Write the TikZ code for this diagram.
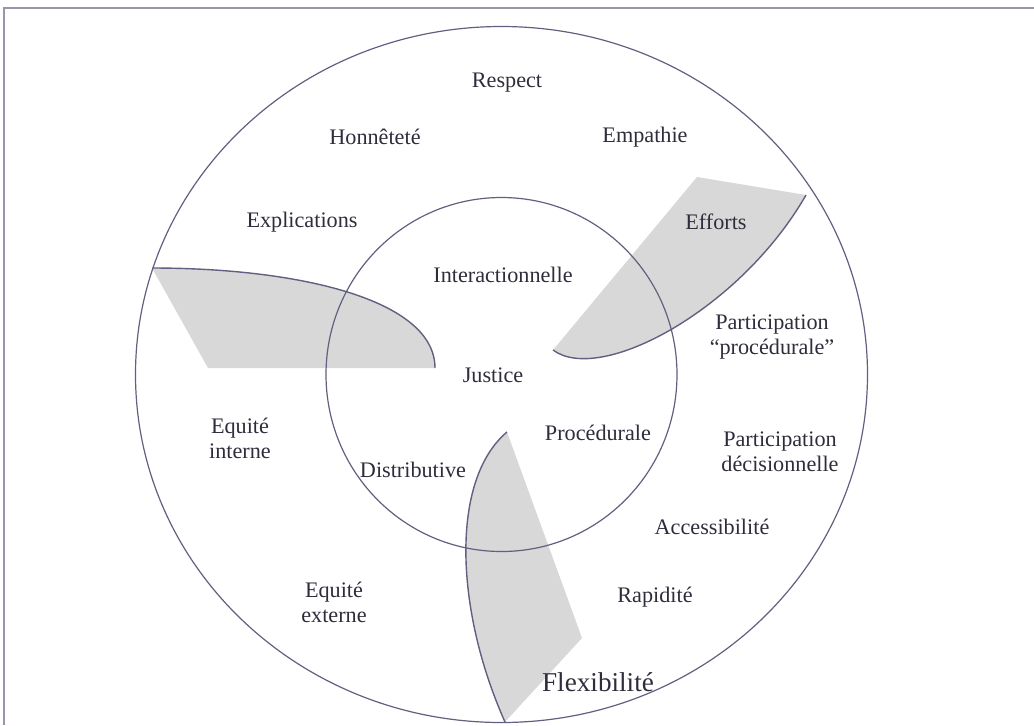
\documentclass[tikz,border=0pt]{standalone}
\usepackage{fontspec}
\setmainfont{Liberation Serif}
\usepackage{tikz}
\definecolor{jsline}{RGB}{96,96,128}
\definecolor{jsframe}{RGB}{150,150,172}
\definecolor{jsshade}{RGB}{216,216,216}
\definecolor{jstext}{RGB}{45,45,60}
\tikzset{
  jslabel/.style={text=jstext, align=center, inner sep=1pt, font=\fontsize{11.1}{12.5}\selectfont},
  jsbig/.style={jslabel, font=\fontsize{13.6}{15}\selectfont},
  jsring/.style={draw=jsline, line width=.6pt},
  jsblade/.style={fill=jsshade, draw=none},
  jsedge/.style={draw=jsline, line width=.7pt}
}

\begin{document}
\begin{tikzpicture}[x=.5pt, y=-.5pt]
  \useasboundingbox (0,0) rectangle (1034,725);
  % frame
  \draw[jsframe, line width=1pt] (4,725) -- (4,8) -- (1034,8);
  % shaded blades
  \fill[jsblade] (152,268) .. controls (300,268) and (435,300) .. (435,368) -- (208,368) -- cycle;
  \fill[jsblade] (806,195) .. controls (740,310) and (600,385) .. (553,350) -- (697,177) -- cycle;
  \fill[jsblade] (505,722) .. controls (455,610) and (450,480) .. (507,432) -- (582,638) -- cycle;
  % rings
  \draw[jsring] (501.5,374.5) ellipse [x radius=366, y radius=348];
  \draw[jsring] (501.5,374.5) ellipse [x radius=175.5, y radius=177];
  % curved edges of the blades
  \draw[jsedge] (152,268) .. controls (300,268) and (435,300) .. (435,368);
  \draw[jsedge] (806,195) .. controls (740,310) and (600,385) .. (553,350);
  \draw[jsedge] (505,722) .. controls (455,610) and (450,480) .. (507,432);
  % labels
  \node[jslabel] (respect) at (507,83) {Respect};
  \node[jslabel] (honnetete) at (375,137) {Honnêteté};
  \node[jslabel] (empathie) at (645,137) {Empathie};
  \node[jslabel] (explications) at (302,222) {Explications};
  \node[jslabel] (efforts) at (716,222) {Efforts};
  \node[jslabel] (interact) at (503,275) {Interactionnelle};
  \node[jslabel] (partproc) at (772,337) {Participation\\``procédurale''};
  \node[jslabel] (justice) at (493,375) {Justice};
  \node[jslabel] (eqint) at (240,438) {Equité\\interne};
  \node[jslabel] (procedurale) at (598,433) {Procédurale};
  \node[jslabel] (partdec) at (780,452) {Participation\\décisionnelle};
  \node[jslabel] (distrib) at (413,470) {Distributive};
  \node[jslabel] (access) at (712,527) {Accessibilité};
  \node[jslabel] (eqext) at (334,602) {Equité\\externe};
  \node[jslabel] (rapidite) at (655,597) {Rapidité};
  \node[jsbig] (flex) at (598,682) {Flexibilité};
\end{tikzpicture}
\end{document}
